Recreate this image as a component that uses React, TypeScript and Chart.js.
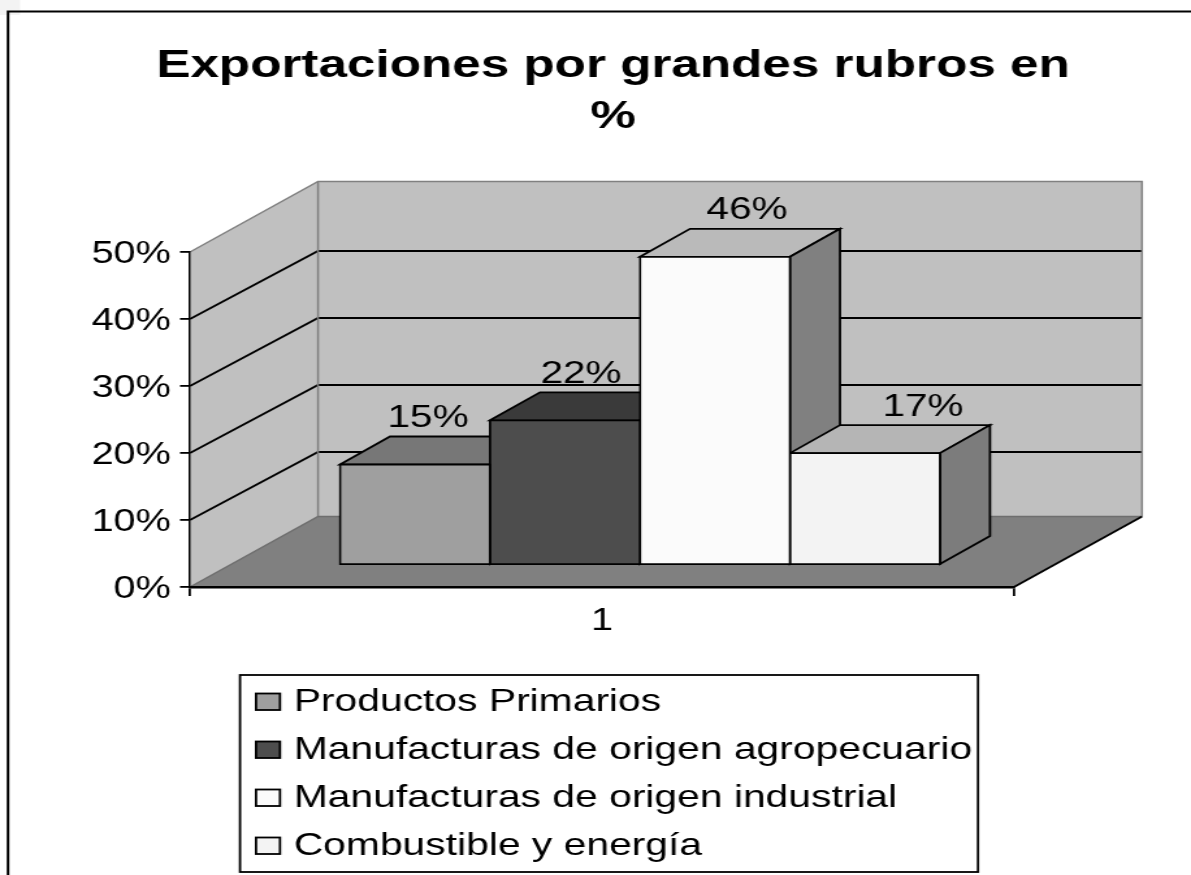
import React, { useEffect, useRef } from "react";
import { Chart, registerables } from "chart.js";

Chart.register(...registerables);

const categories = ["1"];
const seriesNames = [
  "Productos Primarios",
  "Manufacturas de origen agropecuario",
  "Manufacturas de origen industrial",
  "Combustible y energía",
];
const seriesValues = [15, 21.6, 46, 16.7];
const frontColors = ["#9f9f9f", "#4d4d4d", "#fbfbfb", "#f3f3f3"];
const topColors = ["#777777", "#3a3a3a", "#bababa", "#b5b5b5"];
const sideColors = ["#606060", "#262626", "#808080", "#7c7c7c"];
const axisMax = 50;
const axisStep = 10;

// The original is a horizontally stretched picture: the canvas is laid out in
// narrow units and stretched by CSS, so the text is stretched as well.
const PAGE_W = 1191;
const PAGE_H = 875;
const CANVAS_W = 916;
const S = PAGE_W / CANVAS_W;
const X = (px: number) => px / S;

const FONT = "'Liberation Sans', Arial, sans-serif";
const PLOT = { left: X(190), right: X(1014), top: 252, bottom: 587 };
const WALL_DX = X(128);
const WALL_DY = -70.5;
const GRID_DY = -68;
const BAR_SHIFT_X = X(38);
const BAR_SHIFT_Y = -22;
const BAR_DX = X(50);
const BAR_DY = -28;
const LABEL_DX = [X(13), X(16), X(32), X(58)];
const LABEL_DY = -46;
const LEGEND = { left: X(240), right: X(978), top: 675, bottom: 872 };
const LEGEND_FONT = 31.4;
const EDGE = 1.8;

function poly(ctx: CanvasRenderingContext2D, pts: number[][], fill: string | null, stroke: string | null, lw = EDGE) {
  ctx.beginPath();
  pts.forEach(([x, y], i) => (i ? ctx.lineTo(x, y) : ctx.moveTo(x, y)));
  ctx.closePath();
  if (fill) {
    ctx.fillStyle = fill;
    ctx.fill();
  }
  if (stroke) {
    ctx.strokeStyle = stroke;
    ctx.lineWidth = lw;
    ctx.lineJoin = "miter";
    ctx.stroke();
  }
}

function line(ctx: CanvasRenderingContext2D, pts: number[][], stroke: string, lw = EDGE) {
  ctx.beginPath();
  pts.forEach(([x, y], i) => (i ? ctx.lineTo(x, y) : ctx.moveTo(x, y)));
  ctx.strokeStyle = stroke;
  ctx.lineWidth = lw;
  ctx.stroke();
}

const barBox = (el: any) => {
  const { x, y, base, width } = el.getProps(["x", "y", "base", "width"], true);
  return { l: x - width / 2, r: x + width / 2, y, base, cx: x };
};

const scene3d = {
  id: "scene3d",
  afterLayout(chart: any) {
    const t = chart.titleBlock;
    const center = X(613);
    const half = Math.min(center, CANVAS_W - center);
    t.left = center - half;
    t.right = center + half;
    t.width = half * 2;
    const lg = chart.legend;
    lg.left = X(295) - 1 - 15 - LEGEND_FONT / 2 - 16.6;
    lg.right = LEGEND.right;
    lg.top = 669.7;
    lg.bottom = PAGE_H + 200;
    lg.width = lg.right - lg.left;
    lg.height = lg.bottom - lg.top;
  },
  beforeDraw(chart: any) {
    const { ctx, chartArea: a, scales } = chart;
    const y = scales.y;
    // the tick labels of the original sit a little below their tick marks
    y.getLabelItems().forEach((it: any) => {
      if (!it.options.shifted) {
        it.options.translation[1] += 2.5;
        it.options.shifted = true;
      }
    });
    ctx.save();
    ctx.fillStyle = "#ffffff";
    ctx.fillRect(0, 0, CANVAS_W, PAGE_H);
    ctx.fillStyle = "#f3f3f3";
    ctx.fillRect(0, 0, X(20), 15);
    line(ctx, [[X(8), PAGE_H], [X(8), 11.5], [CANVAS_W, 11.5]], "#000000", 2);

    const y0 = y.getPixelForValue(0);
    const yT = y.getPixelForValue(axisMax);
    const d = WALL_DX;
    // walls
    poly(ctx, [[a.left, y0], [a.left, yT], [a.left + d, yT + WALL_DY], [a.left + d, y0 + WALL_DY]], "#c0c0c0", null);
    poly(ctx, [[a.left + d, yT + WALL_DY], [a.right + d, yT + WALL_DY], [a.right + d, y0 + WALL_DY], [a.left + d, y0 + WALL_DY]], "#c0c0c0", null);
    // floor
    poly(ctx, [[a.left, y0], [a.right, y0], [a.right + d, y0 + WALL_DY], [a.left + d, y0 + WALL_DY]], "#808080", null);
    // gridlines on the two walls
    y.ticks.forEach((t: any) => {
      if (t.value === 0 || t.value === axisMax) return;
      const py = y.getPixelForValue(t.value);
      line(ctx, [[a.left, py], [a.left + d, py + GRID_DY], [a.right + d, py + GRID_DY]], "#000000");
    });
    // wall edges
    line(ctx, [[a.left, yT], [a.left + d, yT + WALL_DY], [a.right + d, yT + WALL_DY], [a.right + d, y0 + WALL_DY]], "#808080", 1.5);
    line(ctx, [[a.left + d, yT + WALL_DY], [a.left + d, y0 + WALL_DY]], "#808080", 1.5);
    line(ctx, [[a.left, y0], [a.left + d, y0 + WALL_DY], [a.right + d, y0 + WALL_DY]], "#6e6e6e", 1.5);
    line(ctx, [[a.right, y0], [a.right + d, y0 + WALL_DY]], "#000000");
    ctx.restore();
  },
  beforeDatasetsDraw(chart: any) {
    const { ctx } = chart;
    ctx.save();
    ctx.translate(BAR_SHIFT_X, BAR_SHIFT_Y);
    chart.data.datasets.forEach((_: any, i: number) => {
      const b = barBox(chart.getDatasetMeta(i).data[0]);
      poly(ctx, [[b.l, b.y], [b.l + BAR_DX, b.y + BAR_DY], [b.r + BAR_DX, b.y + BAR_DY], [b.r, b.y]], topColors[i], "#000000");
      poly(ctx, [[b.r, b.y], [b.r + BAR_DX, b.y + BAR_DY], [b.r + BAR_DX, b.base + BAR_DY], [b.r, b.base]], sideColors[i], "#000000");
    });
  },
  afterDatasetsDraw(chart: any) {
    const { ctx } = chart;
    ctx.restore();
    ctx.save();
    ctx.font = `31.2px ${FONT}`;
    ctx.fillStyle = "#000000";
    ctx.textAlign = "center";
    ctx.textBaseline = "middle";
    chart.data.datasets.forEach((ds: any, i: number) => {
      const b = barBox(chart.getDatasetMeta(i).data[0]);
      ctx.fillText(`${Math.round(ds.data[0])}%`, b.cx + BAR_SHIFT_X + LABEL_DX[i], b.y + BAR_SHIFT_Y + LABEL_DY);
    });
    ctx.restore();
  },
  afterDraw(chart: any) {
    const { ctx } = chart;
    ctx.save();
    ctx.strokeStyle = "#000000";
    ctx.lineWidth = EDGE;
    ctx.strokeRect(LEGEND.left, LEGEND.top, LEGEND.right - LEGEND.left, LEGEND.bottom - LEGEND.top);
    frontColors.forEach((c, i) => {
      const top = 693.5 + i * 48;
      ctx.fillStyle = c;
      ctx.fillRect(X(256), top, X(24), 16.5);
      ctx.strokeRect(X(256), top, X(24), 16.5);
    });
    ctx.restore();
  },
};

export default function App() {
  const ref = useRef<HTMLCanvasElement>(null);
  useEffect(() => {
    document.body.style.margin = "0";
    const chart = new Chart(ref.current!, {
      type: "bar",
      data: {
        labels: categories,
        datasets: seriesNames.map((label, i) => ({
          label,
          data: [seriesValues[i]],
          backgroundColor: frontColors[i],
          borderColor: "#000000",
          borderWidth: EDGE,
          borderSkipped: false,
          inflateAmount: EDGE / 2,
          barPercentage: 1,
          categoryPercentage: 600 / 824,
        })),
      },
      plugins: [scene3d],
      options: {
        animation: false,
        responsive: false,
        maintainAspectRatio: false,
        devicePixelRatio: 1,
        events: [],
        layout: { padding: { left: 0, right: CANVAS_W - PLOT.right, top: 0, bottom: PAGE_H - PLOT.bottom - 60 } },
        plugins: {
          tooltip: { enabled: false },
          title: {
            display: true,
            text: ["Exportaciones por grandes rubros en", "%"],
            color: "#000000",
            font: { family: FONT, size: 39.4, weight: "bold", lineHeight: 1.3 },
            padding: { top: 40.5, bottom: 109.06 },
          },
          legend: {
            display: true,
            position: "chartArea",
            align: "start",
            labels: {
              boxWidth: 15,
              boxHeight: 16,
              padding: 16.6,
              color: "#000000",
              font: { family: FONT, size: LEGEND_FONT },
              generateLabels: (c: any) =>
                c.data.datasets.map((d: any, i: number) => ({
                  text: d.label,
                  fillStyle: "rgba(0,0,0,0)",
                  strokeStyle: "rgba(0,0,0,0)",
                  lineWidth: 0,
                  datasetIndex: i,
                })),
            },
          },
        },
        scales: {
          x: {
            afterFit: (s: any) => {
              s.height = 60;
            },
            grid: { display: true, drawOnChartArea: false, drawTicks: true, tickLength: 9, color: "#000000", lineWidth: EDGE },
            border: { display: true, color: "#000000", width: 2.5 },
            ticks: { color: "#000000", font: { family: FONT, size: 30.5 }, padding: 7 },
          },
          y: {
            min: 0,
            max: axisMax,
            afterFit: (s: any) => {
              s.width = PLOT.left;
            },
            grid: { display: true, drawOnChartArea: false, drawTicks: true, tickLength: X(10), color: "#000000", lineWidth: EDGE },
            border: { display: true, color: "#000000", width: 1.5 },
            ticks: {
              stepSize: axisStep,
              color: "#000000",
              padding: 7,
              font: { family: FONT, size: 30.5 },
              callback: (v: any) => `${v}%`,
            },
          },
        },
      } as any,
    });
    return () => chart.destroy();
  }, []);
  return (
    <div style={{ position: "fixed", left: 0, top: 0, width: PAGE_W, height: PAGE_H, overflow: "hidden", background: "#fff" }}>
      <canvas
        ref={ref}
        width={CANVAS_W}
        height={PAGE_H}
        style={{ display: "block", transform: `scaleX(${S})`, transformOrigin: "0 0" }}
      />
    </div>
  );
}
